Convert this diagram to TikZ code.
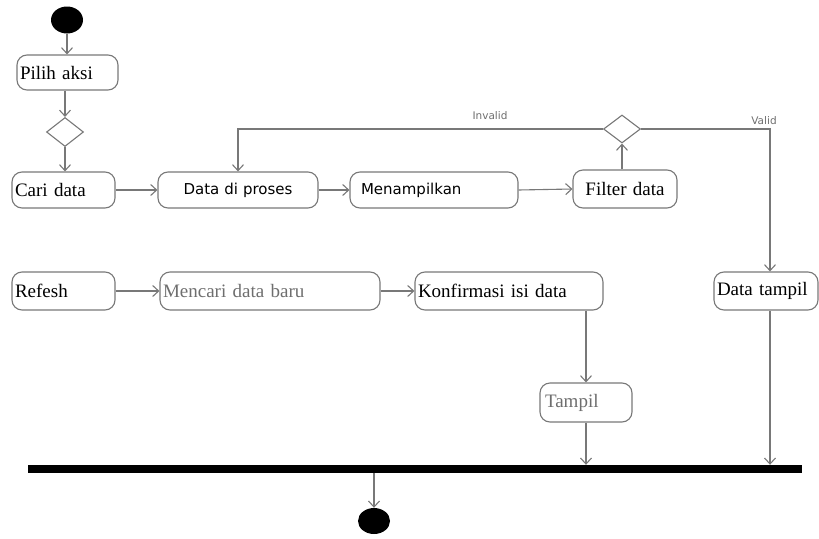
\documentclass[tikz,border=0pt]{standalone}
\usepackage{fontspec}
\setmainfont{Liberation Serif}
\newfontfamily\uisans{DejaVu Sans}
\usetikzlibrary{shapes.geometric,arrows.meta,calc}
\definecolor{edge}{RGB}{120,120,120}
\definecolor{soft}{RGB}{110,110,110}
\tikzset{
  act/.style={draw=edge, line width=1.1pt, rounded corners=10pt, inner xsep=3pt, inner ysep=0pt, align=left, font=\fontsize{19}{21}\selectfont},
  actsans/.style={act, align=center, font=\uisans\fontsize{15}{17}\selectfont},
  choice/.style={draw=edge, line width=1.1pt, diamond, inner sep=0pt, minimum width=37pt, minimum height=29pt},
  dot/.style={ellipse, fill=black, inner sep=0pt, minimum width=32pt, minimum height=27pt},
  flow/.style={draw=edge, line width=1.1pt, -{Straight Barb[length=6pt,width=11pt]}},
  guard/.style={text=soft, font=\uisans\fontsize{10.5}{12}\selectfont}
}
\begin{document}
\begin{tikzpicture}[x=1pt,y=-1pt]
\useasboundingbox (0,0) rectangle (819,538);
% start
\node[dot] (start) at (67,20) {};
\node[act, text width=95pt, minimum height=35pt] (pilih) at (67.5,72.5) {Pilih aksi};
\node[choice] (d1) at (65,132) {};
\node[act, text width=97pt, minimum height=36pt] (cari) at (63.5,190) {Cari data};
\node[actsans, text width=154pt, minimum height=36pt] (proses) at (238,190) {Data di proses};
\node[actsans, align=left, inner xsep=11pt, text width=146pt, minimum height=36pt] (menam) at (434,190) {Menampilkan};
\node[act, align=center, text width=98pt, minimum height=38pt] (filter) at (625,189) {Filter data};
\node[choice, minimum height=28pt] (d2) at (622,129) {};
\node[act, text width=97pt, minimum height=38pt] (refesh) at (63.5,291) {Refesh};
\node[act, text=soft, text width=214pt, minimum height=38pt] (mencari) at (270,291) {Mencari data baru};
\node[act, text width=182pt, minimum height=38pt] (konf) at (509,291) {Konfirmasi isi data};
\node[act, text width=98pt, minimum height=38pt] (dtampil) at (766,291) {Data tampil};
\node[act, text=soft, inner xsep=5pt, text width=82pt, minimum height=39pt] (tampil) at (586,402.5) {Tampil};
\node[fill=black, inner sep=0pt, minimum width=774pt, minimum height=8pt] (bar) at (415,469) {};
\node[dot, minimum height=26pt] (end) at (374,521) {};
% connectors
\draw[flow] (start) -- (start |- pilih.north);
\draw[flow] (d1.north |- pilih.south) -- (d1.north);
\draw[flow] (d1.south) -- (d1.south |- cari.north);
\draw[flow] (cari.east) -- (proses.west);
\draw[flow] (proses.east) -- (menam.west);
\draw[flow] (menam.east) -- (filter.west);
\draw[flow] (d2.south |- filter.north) -- (d2.south);
\draw[flow] (d2.west) -- (proses.north |- d2.west) -- (proses.north);
\draw[flow] (d2.east) -- (770,129) -- (dtampil.north -| 770,0);
\node[guard] (inv) at (490,116) {Invalid};
\node[guard] (val) at (764,121) {Valid};
\draw[flow] (refesh.east) -- (mencari.west);
\draw[flow] (mencari.east) -- (konf.west);
\draw[flow] (konf.south -| tampil.north) -- (tampil.north);
\draw[flow] (tampil.south) -- (tampil.south |- bar.north);
\draw[flow] (dtampil.south -| 770,0) -- (bar.north -| 770,0);
\draw[flow] (end.north |- bar.south) -- (end.north);
\end{tikzpicture}
\end{document}
